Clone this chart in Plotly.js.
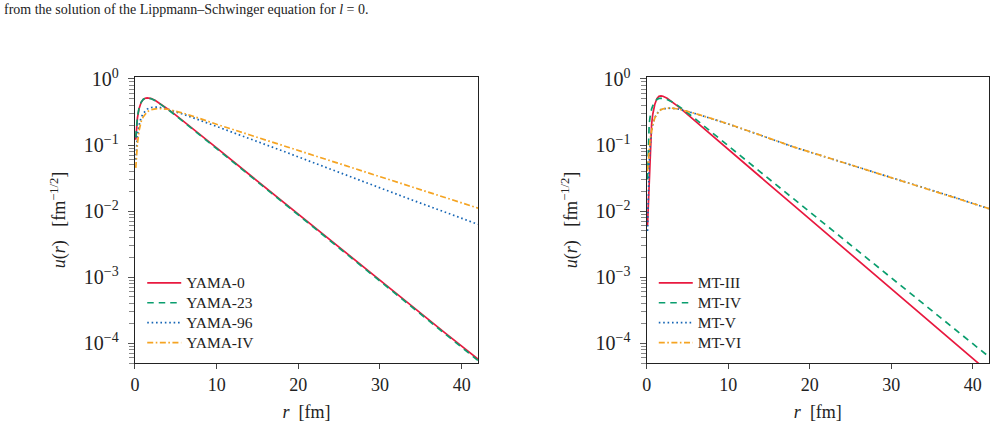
<!DOCTYPE html>
<html>
<head>
<meta charset="utf-8">
<script src="https://cdn.plot.ly/plotly-3.0.1.min.js"></script>
<style>
  html, body { margin: 0; padding: 0; background: #ffffff; }
  #plot { width: 996px; height: 437px; }
</style>
</head>
<body>
<div id="plot"></div>
<script>
// Deuteron S-wave functions u(r) in fm^-1/2, left panel: Yamaguchi-type potentials
const rYama = [0.1, 0.2, 0.3, 0.5, 0.75, 1, 1.25, 1.5, 1.75, 2, 2.5, 3, 4, 5, 6, 8, 10, 14, 18, 22, 26, 30, 34, 38, 42];
const uYama0  = [0.12, 0.19, 0.255, 0.355, 0.44, 0.488, 0.511, 0.518, 0.515, 0.505, 0.472, 0.432, 0.352, 0.283, 0.226, 0.143, 0.0905, 0.0358, 0.0142, 0.00565, 0.00225, 0.000895, 0.000356, 0.000142, 0.0000575];
const uYama23 = [0.13, 0.2, 0.265, 0.362, 0.443, 0.489, 0.511, 0.517, 0.513, 0.503, 0.468, 0.428, 0.348, 0.279, 0.222, 0.1405, 0.0888, 0.0351, 0.0139, 0.00551, 0.00219, 0.000868, 0.000344, 0.000136, 0.0000545];
const uYama96 = [0.06, 0.1, 0.14, 0.2, 0.26, 0.30, 0.33, 0.35, 0.362, 0.37, 0.375, 0.372, 0.35, 0.32, 0.29, 0.236, 0.192, 0.126, 0.082, 0.0532, 0.0344, 0.0222, 0.0146, 0.0096, 0.0063];
const uYamaIV = [0.045, 0.075, 0.105, 0.165, 0.225, 0.265, 0.295, 0.318, 0.333, 0.343, 0.353, 0.356, 0.348, 0.327, 0.302, 0.251, 0.206, 0.143, 0.099, 0.0687, 0.0477, 0.0331, 0.0230, 0.0160, 0.0111];

// right panel: Malfliet-Tjon potentials
const rMT = [0.1, 0.2, 0.3, 0.4, 0.5, 0.6, 0.75, 1, 1.25, 1.5, 1.75, 2, 2.5, 3, 4, 5, 6, 8, 10, 14, 18, 22, 26, 30, 34, 38, 42];
const uMT3 = [0.006, 0.012, 0.035, 0.08, 0.14, 0.205, 0.295, 0.415, 0.505, 0.548, 0.556, 0.548, 0.51, 0.463, 0.372, 0.292, 0.228, 0.139, 0.0859, 0.0325, 0.0123, 0.00466, 0.00176, 0.000667, 0.000252, 0.0000955, 0.0000361];
const uMT4 = [0.03, 0.12, 0.2, 0.26, 0.31, 0.35, 0.395, 0.45, 0.49, 0.507, 0.512, 0.508, 0.49, 0.458, 0.382, 0.308, 0.246, 0.155, 0.0966, 0.0386, 0.01538, 0.00614, 0.00245, 0.000977, 0.00039, 0.000156, 0.000062];
const uMT5 = [0.005, 0.02, 0.05, 0.09, 0.13, 0.165, 0.205, 0.26, 0.3, 0.328, 0.345, 0.354, 0.362, 0.362, 0.348, 0.323, 0.298, 0.25, 0.208, 0.140, 0.0935, 0.0655, 0.0460, 0.0322, 0.0225, 0.0158, 0.0108];
const uMT6 = [0.04, 0.065, 0.09, 0.115, 0.14, 0.165, 0.205, 0.258, 0.298, 0.326, 0.343, 0.353, 0.361, 0.362, 0.349, 0.324, 0.299, 0.251, 0.209, 0.1405, 0.0938, 0.0657, 0.0461, 0.0323, 0.0226, 0.0159, 0.0109];

const namesYama = ['YAMA-0', 'YAMA-23', 'YAMA-96', 'YAMA-IV'];
const namesMT   = ['MT-III', 'MT-IV', 'MT-V', 'MT-VI'];

// axis ticks
const xTicks = [0, 10, 20, 30, 40];
const yTickVals = [1, 0.1, 0.01, 0.001, 0.0001];
const yTickText = ['10<sup>0</sup>', '10<sup>−1</sup>', '10<sup>−2</sup>', '10<sup>−3</sup>', '10<sup>−4</sup>'];

const captionText = 'from the solution of the Lippmann–Schwinger equation for <i>l</i> = 0.';
const xTitle = '<i>r</i>  [fm]';
const yTitle = '<i>u</i>(<i>r</i>)   [fm<sup>−1/2</sup>]';

// per-decade minor tick positions 2..9 x 10^k
const yMinorVals = [];
for (let k = -5; k <= 0; k++) {
  for (let m = 2; m <= 9; m++) yMinorVals.push(m * Math.pow(10, k));
}

const styles = [
  { color: '#E8193F', dash: 'solid' },
  { color: '#0A9E6E', dash: '6.5px,5px' },
  { color: '#1565B5', dash: '1.6px,2.8px' },
  { color: '#F5A422', dash: '6px,2.5px,1.6px,2.5px' }
];

const FONT = 'Liberation Serif, DejaVu Serif, serif';

// legend rows use a compact line height with slightly larger glyphs
function legendLabel(name) {
  return '<span style="font-size:15.5px">' + name + '</span>';
}

function makeTraces(r, series, names, xa, ya, legend) {
  return series.map((u, i) => ({
    x: r, y: u, name: legendLabel(names[i]), type: 'scatter', mode: 'lines',
    xaxis: xa, yaxis: ya, legend: legend,
    line: { color: styles[i].color, dash: styles[i].dash, width: 1.7 }
  }));
}

const data = [
  ...makeTraces(rYama, [uYama0, uYama23, uYama96, uYamaIV], namesYama, 'x', 'y', 'legend'),
  ...makeTraces(rMT, [uMT3, uMT4, uMT5, uMT6], namesMT, 'x2', 'y2', 'legend2')
];

function xAxis(domain, anchor) {
  return {
    domain: domain, anchor: anchor, range: [0, 42],
    tickmode: 'array', tickvals: xTicks,
    ticks: 'outside', ticklen: 5, tickwidth: 1, tickcolor: '#444',
    showgrid: false, zeroline: false,
    showline: true, linecolor: '#222', linewidth: 1.2, mirror: true,
    tickfont: { family: FONT, size: 18, color: '#222' },
    title: { text: xTitle, font: { family: FONT, size: 18, color: '#222' }, standoff: 11 }
  };
}

function yAxis(anchor) {
  return {
    domain: [0.1693, 0.8238], anchor: anchor, type: 'log',
    range: [Math.log10(5e-5), 0.03],
    tickmode: 'array', tickvals: yTickVals, ticktext: yTickText,
    ticks: 'outside', ticklen: 6, tickwidth: 1, tickcolor: '#555',
    ticklabelstandoff: 5,
    minor: { tickmode: 'array', tickvals: yMinorVals, ticks: 'outside', ticklen: 5, tickwidth: 1, tickcolor: '#888', showgrid: false },
    showgrid: false, zeroline: false,
    showline: true, linecolor: '#222', linewidth: 1.2, mirror: true,
    tickfont: { family: FONT, size: 20, color: '#222' },
    title: { text: yTitle, font: { family: FONT, size: 18, color: '#222' }, standoff: 13 }
  };
}

function legendBox(x) {
  return {
    x: x, y: 0.387, xanchor: 'left', yanchor: 'top',
    bgcolor: 'rgba(255,255,255,0)', borderwidth: 0,
    font: { family: FONT, size: 13, color: '#222' },
    itemwidth: 34, tracegroupgap: 0
  };
}

const layout = {
  width: 996, height: 437,
  margin: { l: 0, r: 0, t: 0, b: 0 },
  paper_bgcolor: '#ffffff', plot_bgcolor: '#ffffff',
  showlegend: true,
  xaxis: xAxis([0.1355, 0.4799], 'y'),
  yaxis: yAxis('x'),
  xaxis2: xAxis([0.6493, 0.9930], 'y2'),
  yaxis2: yAxis('x2'),
  legend: legendBox(0.1428),
  legend2: legendBox(0.6564),
  annotations: [{
    text: captionText, xref: 'paper', yref: 'paper',
    x: 0.002, y: 0.979, xanchor: 'left', yanchor: 'middle',
    showarrow: false, font: { family: FONT, size: 14, color: '#222' }
  }]
};

Plotly.newPlot('plot', data, layout, { staticPlot: true, displayModeBar: false });
</script>
</body>
</html>
